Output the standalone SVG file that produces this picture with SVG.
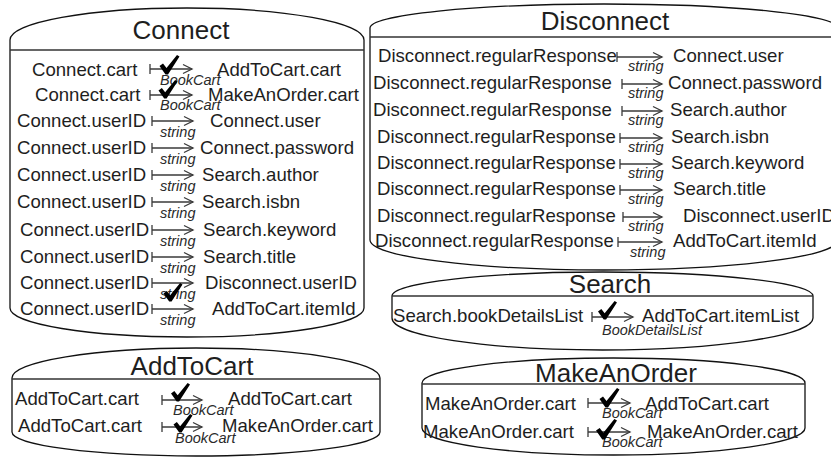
<svg xmlns="http://www.w3.org/2000/svg" xmlns:xlink="http://www.w3.org/1999/xlink" width="831" height="457" viewBox="0 0 831 457">
<style>
.sh{fill:#fff;stroke:#111;stroke-width:1.3}
.dv{stroke:#333;stroke-width:1.6;fill:none}
text{font-family:"Liberation Sans",Arial,sans-serif;fill:#1e1e1e}
.t{font-size:18.6px}
.h{font-size:26px;text-anchor:middle}
.l{font-size:14.5px;font-style:italic;fill:#2a2a2a}
.a{stroke:#3a3a3a;stroke-width:1.3;fill:none;marker-start:url(#bar);marker-end:url(#hd)}
.c{fill:#000}
</style>
<defs>
<marker id="bar" markerUnits="userSpaceOnUse" markerWidth="4" markerHeight="10" refX="2" refY="5" orient="auto"><path d="M2,0V10" stroke="#3a3a3a" stroke-width="1.3" fill="none"/></marker>
<marker id="hd" markerUnits="userSpaceOnUse" markerWidth="12" markerHeight="12" refX="10" refY="6" orient="auto"><path d="M1,1.5L10,6L1,10.5" stroke="#3a3a3a" stroke-width="1.3" fill="none"/></marker>
<symbol id="chk" viewBox="0 0 20 20"><path d="M0,11L3.5,8.5L7,13L17.5,0L20,1.5L8.5,19.5L6,19.5Z"/></symbol>
</defs>

<g id="Connect">
<path class="sh" d="M10,308V40A177,32 0 0 1 364,40V308A177,29 0 0 1 10,308Z"/>
<path class="dv" d="M10,50H364"/>
<text class="h" x="181" y="39">Connect</text>
<text class="t" x="32" y="76">Connect.cart</text><text class="t" x="217" y="76">AddToCart.cart</text><text class="l" x="160" y="85">BookCart</text>
<text class="t" x="35" y="101">Connect.cart</text><text class="t" x="208" y="101">MakeAnOrder.cart</text><text class="l" x="160" y="110">BookCart</text>
<text class="t" x="17" y="127">Connect.userID</text><text class="t" x="210" y="127">Connect.user</text><text class="l" x="160" y="137">string</text>
<text class="t" x="17" y="154">Connect.userID</text><text class="t" x="200" y="154">Connect.password</text><text class="l" x="160" y="164">string</text>
<text class="t" x="17" y="181">Connect.userID</text><text class="t" x="202" y="181">Search.author</text><text class="l" x="160" y="191">string</text>
<text class="t" x="17" y="208">Connect.userID</text><text class="t" x="202" y="208">Search.isbn</text><text class="l" x="160" y="218">string</text>
<text class="t" x="20" y="236">Connect.userID</text><text class="t" x="203" y="236">Search.keyword</text><text class="l" x="160" y="246">string</text>
<text class="t" x="20" y="263">Connect.userID</text><text class="t" x="203" y="263">Search.title</text><text class="l" x="160" y="273">string</text>
<text class="t" x="20" y="289">Connect.userID</text><text class="t" x="205" y="289">Disconnect.userID</text><text class="l" x="160" y="299">string</text>
<text class="t" x="20" y="315">Connect.userID</text><text class="t" x="212" y="315">AddToCart.itemId</text><text class="l" x="160" y="325">string</text>
</g>

<g id="Disconnect">
<path class="sh" d="M370,240V28A234,24 0 0 1 838,28V240A234,30 0 0 1 370,240Z"/>
<path class="dv" d="M370,37H838"/>
<text class="h" x="605" y="30">Disconnect</text>
<text class="t" x="378" y="62">Disconnect.regularResponse</text><text class="t" x="673" y="62">Connect.user</text><text class="l" x="628" y="71">string</text>
<text class="t" x="373" y="89">Disconnect.regularResponse</text><text class="t" x="668" y="89">Connect.password</text><text class="l" x="628" y="98">string</text>
<text class="t" x="373" y="116">Disconnect.regularResponse</text><text class="t" x="670" y="116">Search.author</text><text class="l" x="628" y="125">string</text>
<text class="t" x="377" y="143">Disconnect.regularResponse</text><text class="t" x="671" y="143">Search.isbn</text><text class="l" x="628" y="152">string</text>
<text class="t" x="377" y="169">Disconnect.regularResponse</text><text class="t" x="671" y="169">Search.keyword</text><text class="l" x="628" y="178">string</text>
<text class="t" x="377" y="195">Disconnect.regularResponse</text><text class="t" x="673" y="195">Search.title</text><text class="l" x="628" y="204">string</text>
<text class="t" x="377" y="222">Disconnect.regularResponse</text><text class="t" x="683" y="222">Disconnect.userID</text><text class="l" x="628" y="231">string</text>
<text class="t" x="375" y="247">Disconnect.regularResponse</text><text class="t" x="673" y="247">AddToCart.itemId</text><text class="l" x="630" y="257">string</text>
</g>

<g id="Search">
<path class="sh" d="M392,318V296A210.5,24 0 0 1 813,296V318A210.5,32 0 0 1 392,318Z"/>
<path class="dv" d="M392,296H813"/>
<text class="h" x="610" y="293">Search</text>
<text class="t" x="393" y="322">Search.bookDetailsList</text><text class="t" x="642" y="322">AddToCart.itemList</text><text class="l" x="602" y="335">BookDetailsList</text>
</g>

<g id="AddToCart">
<path class="sh" d="M12,432V378A184,30 0 0 1 380,378V432A184,24 0 0 1 12,432Z"/>
<path class="dv" d="M12,379H380"/>
<text class="h" x="192" y="375">AddToCart</text>
<text class="t" x="15" y="405">AddToCart.cart</text><text class="t" x="228" y="405">AddToCart.cart</text><text class="l" x="173" y="415">BookCart</text>
<text class="t" x="18" y="432">AddToCart.cart</text><text class="t" x="222" y="432">MakeAnOrder.cart</text><text class="l" x="175" y="443">BookCart</text>
</g>

<g id="MakeAnOrder">
<path class="sh" d="M422,428V383A191.5,25 0 0 1 805,383V428A191.5,27 0 0 1 422,428Z"/>
<path class="dv" d="M422,384H805"/>
<text class="h" x="616" y="382">MakeAnOrder</text>
<text class="t" x="425" y="410">MakeAnOrder.cart</text><text class="t" x="645" y="410">AddToCart.cart</text><text class="l" x="602" y="418">BookCart</text>
<text class="t" x="423" y="438">MakeAnOrder.cart</text><text class="t" x="647" y="438">MakeAnOrder.cart</text><text class="l" x="602" y="447">BookCart</text>
</g>

<g id="connectors">
<path class="a" d="M150,69H192"/>
<path class="a" d="M150,95H192"/>
<path class="a" d="M152,121H193"/>
<path class="a" d="M152,148H193"/>
<path class="a" d="M152,175H193"/>
<path class="a" d="M152,202H193"/>
<path class="a" d="M152,230H193"/>
<path class="a" d="M152,257H193"/>
<path class="a" d="M152,283H193"/>
<path class="a" d="M152,309H193"/>
<path class="a" d="M617,57H662"/>
<path class="a" d="M622,84H662"/>
<path class="a" d="M622,111H662"/>
<path class="a" d="M620,138H662"/>
<path class="a" d="M620,164H662"/>
<path class="a" d="M620,190H662"/>
<path class="a" d="M623,217H662"/>
<path class="a" d="M618,242H662"/>
<path class="a" d="M592,317H633"/>
<path class="a" d="M162,400H202"/>
<path class="a" d="M162,427H202"/>
<path class="a" d="M588,403H630"/>
<path class="a" d="M588,432H630"/>
<use xlink:href="#chk" class="c" x="157" y="55" width="25" height="20"/>
<use xlink:href="#chk" class="c" x="155" y="80" width="26" height="19"/>
<use xlink:href="#chk" class="c" x="163" y="283" width="20" height="19"/>
<use xlink:href="#chk" class="c" x="597" y="301" width="21" height="19"/>
<use xlink:href="#chk" class="c" x="170" y="383" width="21" height="19"/>
<use xlink:href="#chk" class="c" x="173" y="414" width="20" height="19"/>
<use xlink:href="#chk" class="c" x="597" y="388" width="25" height="20"/>
<use xlink:href="#chk" class="c" x="593" y="419" width="27" height="21"/>
</g>
</svg>
